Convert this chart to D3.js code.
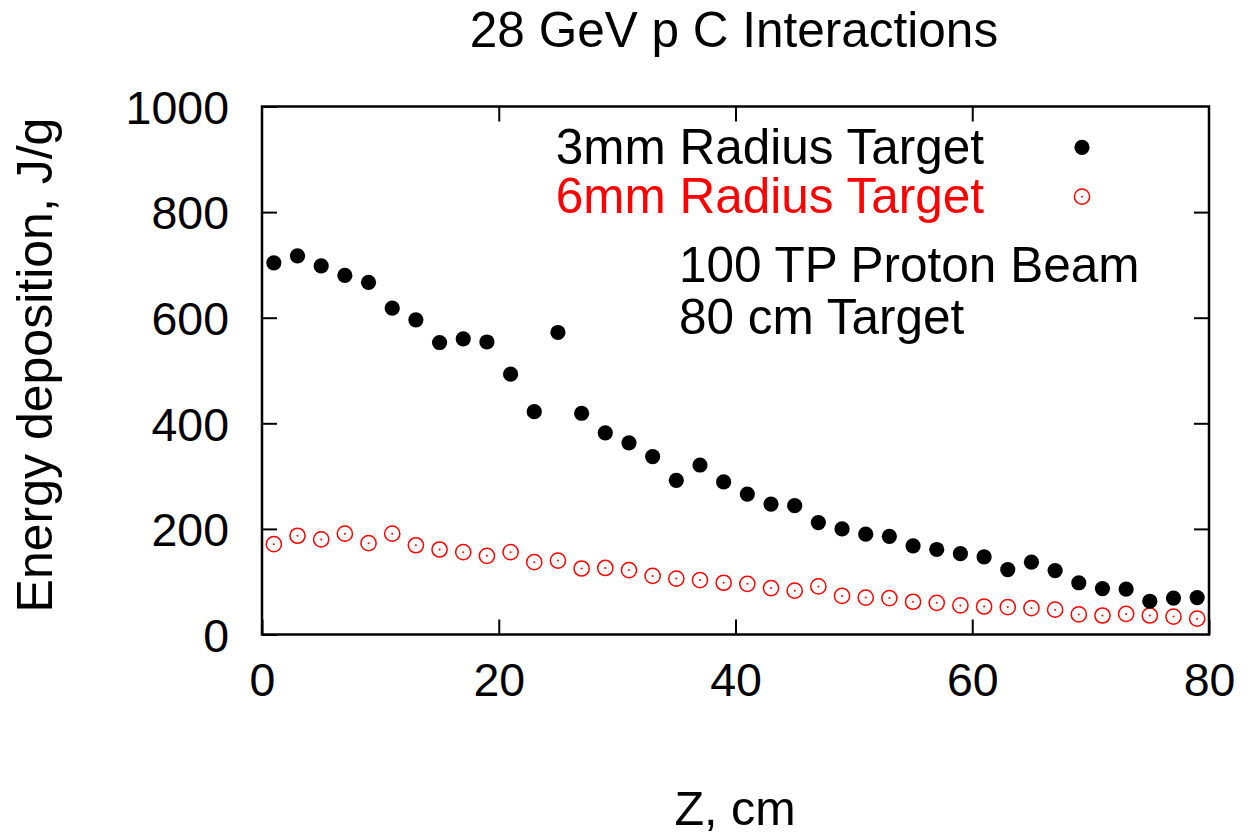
<!DOCTYPE html>
<html>
<head>
<meta charset="utf-8">
<script src="https://cdn.jsdelivr.net/npm/d3@7"></script>
<style>
html,body{margin:0;padding:0;background:#fff;}
svg{display:block;font-family:"Liberation Sans",Arial,Helvetica,sans-serif;}
</style>
</head>
<body>
<svg id="chart" width="1248" height="834"></svg>
<script>
// ---- data ----
const zPositions = [1,3,5,7,9,11,13,15,17,19,21,23,25,27,29,31,33,35,37,39,41,43,45,47,49,51,53,55,57,59,61,63,65,67,69,71,73,75,77,79];
const target3mm = [704,717,698,680,667,618,596,553,560,554,493,422,572,419,382,363,337,292,321,289,266,247,244,212,200,190,186,168,161,153,147,123,137,121,98,87,86,63,69,70];
const target6mm = [171,187,180,191,173,191,169,161,156,149,156,137,140,125,126,122,111,106,103,98,96,88,83,91,73,70,69,62,60,55,53,52,50,47,38,36,39,36,34,30];
const xTicks = [0,20,40,60,80];
const yTicks = [0,200,400,600,800,1000];
const seriesNames = ["3mm Radius Target","6mm Radius Target"];
const seriesColors = ["#000000","#ff0000"];
const noteLines = ["100 TP Proton Beam","80 cm Target"];
const titleText = "28 GeV p C Interactions";
const xLabel = "Z, cm";
const yLabel = "Energy deposition, J/g";

// ---- layout ----
const svg = d3.select("#chart");
const L = 262, R = 1209, T = 106.5, B = 634.5;
const x = d3.scaleLinear().domain([0,80]).range([L,R]);
const y = d3.scaleLinear().domain([0,1000]).range([B,T]);
const tickLen = 15;

// data points
const g = svg.append("g");
const d6 = zPositions.map((z,i)=>({z,v:target6mm[i]}));
const d3m = zPositions.map((z,i)=>({z,v:target3mm[i]}));
g.selectAll("circle.s6").data(d6)
  .enter().append("circle").attr("class","s6")
  .attr("cx",d=>x(d.z)).attr("cy",d=>y(d.v)).attr("r",7.6)
  .attr("fill","none").attr("stroke",seriesColors[1]).attr("stroke-width",1.5);
g.selectAll("circle.s6c").data(d6)
  .enter().append("circle").attr("class","s6c")
  .attr("cx",d=>x(d.z)).attr("cy",d=>y(d.v)).attr("r",1)
  .attr("fill",seriesColors[1]);
g.selectAll("circle.s3").data(d3m)
  .enter().append("circle").attr("class","s3")
  .attr("cx",d=>x(d.z)).attr("cy",d=>y(d.v)).attr("r",7.6)
  .attr("fill",seriesColors[0]);

// axes with mirrored inward ticks
const axStyle = sel => {
  sel.select(".domain").remove();
  sel.selectAll(".tick line").attr("stroke","#000").attr("stroke-width",2);
};
const tickFont = 46.5;
svg.append("g").attr("transform",`translate(0,${B})`)
  .call(d3.axisBottom(x).tickValues(xTicks).tickSize(-tickLen).tickPadding(tickLen+13).tickFormat(d3.format("d")))
  .call(axStyle)
  .call(s=>s.selectAll("text").attr("font-size",tickFont).attr("fill","#000").attr("font-family","Liberation Sans, Arial, sans-serif"));
svg.append("g").attr("transform",`translate(0,${T})`)
  .call(d3.axisTop(x).tickValues(xTicks.slice(1,-1)).tickSize(-tickLen).tickFormat(""))
  .call(axStyle);
svg.append("g").attr("transform",`translate(${L},0)`)
  .call(d3.axisLeft(y).tickValues(yTicks).tickSize(-tickLen).tickPadding(tickLen+18).tickFormat(d3.format("d")))
  .call(axStyle)
  .call(s=>s.selectAll("text").attr("font-size",tickFont).attr("fill","#000").attr("dy","0.36em").attr("font-family","Liberation Sans, Arial, sans-serif"));
svg.append("g").attr("transform",`translate(${R},0)`)
  .call(d3.axisRight(y).tickValues(yTicks.slice(1,-1)).tickSize(-tickLen).tickFormat(""))
  .call(axStyle);

// frame
svg.append("rect").attr("x",L).attr("y",T).attr("width",R-L).attr("height",B-T)
  .attr("fill","none").attr("stroke","#000").attr("stroke-width",2.5);

// title and axis labels
svg.append("text").attr("x",734).attr("y",47).attr("text-anchor","middle")
  .attr("font-size",49.5).text(titleText);
svg.append("text").attr("x",735).attr("y",825).attr("text-anchor","middle")
  .attr("font-size",48.5).text(xLabel);
svg.append("text").attr("transform","translate(52,365) rotate(-90)").attr("text-anchor","middle")
  .attr("font-size",50).text(yLabel);

// legend
const legY = [164,213];
const legMarkY = [147.3,196.7];
seriesNames.forEach((name,i)=>{
  svg.append("text").attr("x",984).attr("y",legY[i]).attr("text-anchor","end")
    .attr("font-size",49.5).attr("fill",seriesColors[i]).text(name);
});
svg.append("circle").attr("cx",1082).attr("cy",legMarkY[0]).attr("r",7.6).attr("fill",seriesColors[0]);
svg.append("circle").attr("cx",1082).attr("cy",legMarkY[1]).attr("r",7.6).attr("fill","none").attr("stroke",seriesColors[1]).attr("stroke-width",1.5);
svg.append("circle").attr("cx",1082).attr("cy",legMarkY[1]).attr("r",1).attr("fill",seriesColors[1]);
noteLines.forEach((t,i)=>{
  svg.append("text").attr("x",679).attr("y",[282,334][i]).attr("font-size",49.5).attr("fill","#000").text(t);
});
</script>
</body>
</html>
